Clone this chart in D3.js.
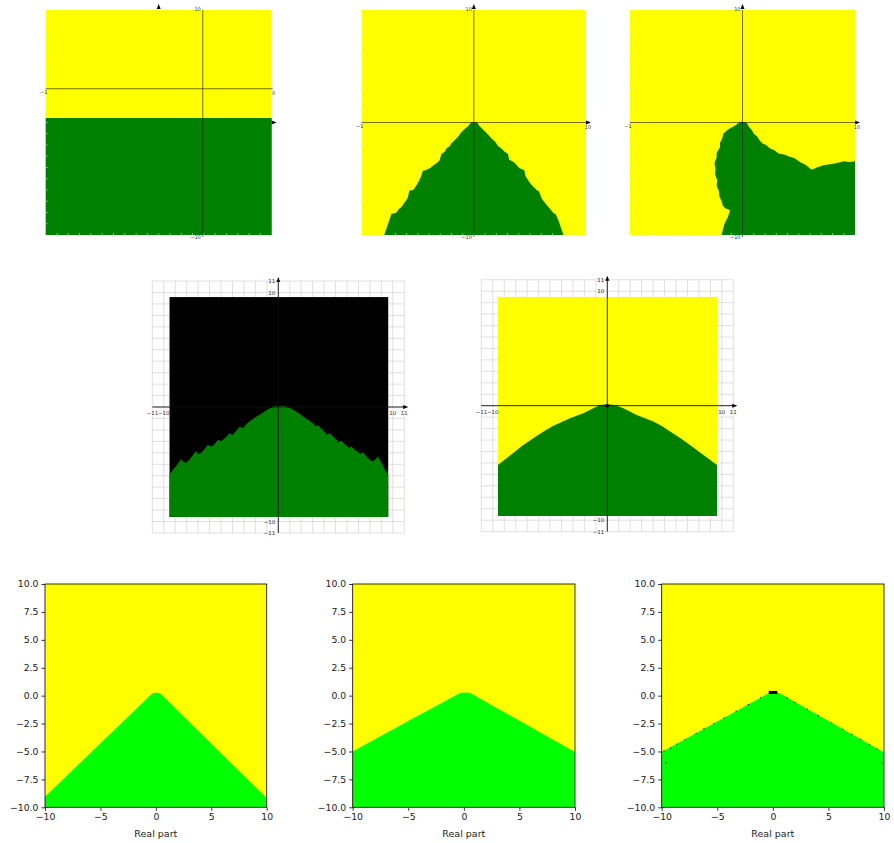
<!DOCTYPE html>
<html><head><meta charset="utf-8">
<script src="https://cdn.jsdelivr.net/npm/d3@7"></script>
<style>body{margin:0;background:#fff}text{font-family:"DejaVu Sans",sans-serif}</style>
</head><body>
<svg id="c" width="894" height="843"></svg>
<script>
// ---------------- DATA ----------------
// Panel 1 (top-left): green half-plane below this imaginary value
const p1GreenTop = 0.4;
const p1AxisLines = [3.9, 3.0];          // where the drawn axis lines sit (x, y)
const p1Labels = ["\u22121", "0", "10", "\u221210"];

// Panel 2 (top-middle): staircase triangle
const p2Region = [[-8.0,-10],[-7.75,-9.3],[-7.55,-8.7],[-7.35,-8.1],[-6.95,-8.05],[-6.7,-7.7],[-6.4,-7.45],[-6.1,-7.0],[-5.9,-6.7],[-5.75,-6.05],[-5.4,-6.0],[-5.1,-5.55],[-4.85,-5.1],[-4.7,-4.75],[-4.55,-4.3],[-4.2,-4.2],[-3.9,-4.05],[-3.6,-3.8],[-3.3,-3.6],[-3.05,-3.35],[-2.9,-2.8],[-2.6,-2.6],[-2.45,-2.3],[-2.15,-2.1],[-2.0,-1.85],[-1.65,-1.5],[-1.35,-1.2],[-1.2,-0.95],[-0.8,-0.55],[-0.5,-0.3],[-0.25,0.0],[0.0,0.05],[0.3,0.0],[0.5,-0.3],[0.7,-0.5],[1.05,-0.85],[1.3,-1.1],[1.6,-1.45],[1.95,-1.75],[2.1,-2.05],[2.45,-2.3],[2.75,-2.6],[3.05,-2.8],[3.15,-3.3],[3.45,-3.45],[3.7,-3.65],[4.05,-4.05],[4.5,-4.25],[4.6,-4.75],[4.85,-5.15],[5.15,-5.55],[5.6,-6.0],[5.8,-6.1],[6.05,-6.75],[6.35,-7.15],[6.65,-7.5],[7.1,-8.05],[7.3,-8.15],[7.55,-8.7],[7.75,-9.3],[8.0,-10]];
const p2Labels = ["\u22121", "10", "10", "\u221210"];

// Panel 3 (top-right): irregular basin
const p3Region = [[-1.85,-10],[-1.75,-9.5],[-1.6,-9.0],[-1.3,-8.4],[-1.1,-7.8],[-1.5,-7.65],[-1.75,-7.4],[-1.85,-7.0],[-2.05,-6.6],[-2.1,-6.1],[-2.3,-5.6],[-2.25,-5.1],[-2.45,-4.6],[-2.4,-4.1],[-2.5,-3.6],[-2.3,-3.1],[-2.3,-2.7],[-2.0,-2.2],[-2.0,-1.8],[-1.8,-1.4],[-1.7,-1.0],[-1.4,-0.7],[-1.1,-0.5],[-0.8,-0.35],[-0.5,-0.15],[-0.2,0.07],[0.2,0.05],[0.4,-0.05],[0.55,-0.35],[0.85,-0.7],[1.0,-1.0],[1.3,-1.25],[1.5,-1.55],[1.75,-1.85],[2.1,-2.0],[2.45,-2.3],[2.8,-2.45],[3.2,-2.75],[3.7,-2.85],[4.2,-3.05],[4.6,-3.15],[5.1,-3.5],[5.6,-3.75],[6.15,-4.2],[6.6,-4.0],[7.2,-3.8],[7.8,-3.7],[8.4,-3.6],[9.0,-3.45],[9.5,-3.5],[10,-3.45],[10,-10]];
const p3Labels = ["\u22121", "10", "10", "\u221210"];

// Panel 4 (middle-left): scalloped basin on black
const p4Boundary = [[-9.5,-5.85],[-9.2,-5.5],[-8.9,-5.1],[-8.7,-4.85],[-8.45,-4.55],[-8.3,-4.8],[-8.1,-4.9],[-7.8,-4.65],[-7.45,-4.2],[-7.2,-3.85],[-7.0,-4.1],[-6.8,-4.05],[-6.5,-3.75],[-6.15,-3.3],[-5.9,-3.45],[-5.65,-3.35],[-5.25,-2.85],[-5.0,-3.0],[-4.65,-2.7],[-4.25,-2.3],[-4.0,-2.45],[-3.65,-2.05],[-3.35,-1.7],[-3.1,-1.85],[-2.8,-1.5],[-2.5,-1.25],[-2.0,-0.9],[-1.6,-0.65],[-1.2,-0.4],[-0.9,-0.2],[-0.5,0.0],[-0.25,0.12],[-0.05,0.08],[0.0,-0.1],[0.1,0.08],[0.5,0.12],[0.9,-0.05],[1.3,-0.25],[1.8,-0.55],[2.2,-0.85],[2.7,-1.2],[3.05,-1.45],[3.3,-1.7],[3.5,-1.6],[3.8,-1.95],[4.25,-2.4],[4.5,-2.3],[4.8,-2.6],[5.25,-3.05],[5.5,-2.95],[5.85,-3.3],[6.2,-3.55],[6.4,-3.45],[6.7,-3.75],[7.2,-4.1],[7.4,-3.95],[7.8,-4.45],[8.2,-4.75],[8.45,-4.6],[8.7,-4.35],[8.95,-4.75],[9.25,-5.35],[9.6,-5.95]];
const p4PlotX = [-9.5, 9.6], p4PlotY = [-9.6, 9.6];

// Panel 5 (middle-right): smooth bell basin on yellow
const p5Boundary = [[-9.55,-5.18],[-8.5,-4.35],[-7.34,-3.43],[-6.4,-2.8],[-5.6,-2.27],[-4.8,-1.8],[-4.13,-1.48],[-3.26,-1.1],[-2.1,-0.66],[-1.22,-0.23],[-0.64,0.06],[0.0,0.13],[0.67,0.06],[1.4,-0.23],[2.57,-0.81],[3.3,-1.1],[4.02,-1.38],[4.8,-1.8],[5.48,-2.25],[6.4,-2.85],[7.22,-3.43],[8.4,-4.3],[9.58,-5.18]];
const p5PlotX = [-9.55, 9.58], p5PlotY = [-9.63, 9.5];
const midTickLabels = [11, 10, -10, -11];

// Bottom row (matplotlib style)
const p6Boundary = [[-10,-9.05],[-7.5,-6.66],[-5,-4.27],[-2.5,-1.88],[-0.6,-0.06],[-0.35,0.18],[-0.1,0.27],[0.2,0.27],[0.45,0.15],[0.7,-0.09],[2.5,-1.86],[5,-4.3],[7.5,-6.75],[10,-9.2]];
const p7Boundary = [[-10,-5.0],[-7.5,-3.64],[-5,-2.28],[-2.5,-0.92],[-0.6,0.11],[-0.3,0.27],[0.5,0.27],[0.7,0.16],[2.5,-0.85],[5,-2.25],[7.5,-3.65],[10,-5.05]];
const p8Boundary = [[-10,-5.05],[-7.5,-3.68],[-5,-2.31],[-2.5,-0.94],[-0.6,0.1],[-0.3,0.27],[0.5,0.27],[0.7,0.16],[2.5,-0.87],[5,-2.28],[7.5,-3.69],[10,-5.1]];
const p8Rect = [[-0.37, 0.15], [0.4, 0.42]];
const p8Specks = [[-9.8,-4.95],[-9.6,-6.0],[-9.2,-4.7],[-8.6,-4.35],[-7.9,-3.95],[-6.9,-3.4],[-6.2,-2.95],[-5.3,-2.5],[-4.4,-2.0],[-3.3,-1.4],[-2.2,-0.8],[-1.1,-0.18],[1.3,-0.2],[2.0,-0.6],[3.1,-1.22],[4.1,-1.78],[5.3,-2.45],[6.3,-3.01],[7.1,-3.47],[7.9,-3.92],[8.7,-4.37],[9.4,-4.77],[9.8,-6.0]];
const bottomYTicks = [10, 7.5, 5, 2.5, 0, -2.5, -5, -7.5, -10];
const bottomXTicks = [-10, -5, 0, 5, 10];
const xLabel = "Real part";

// ---------------- DRAWING ----------------
const YELLOW = "#ffff00", DKGREEN = "#008000", LTGREEN = "#00ff00";
const svg = d3.select("#c");
svg.append("rect").attr("width", 894).attr("height", 843).attr("fill", "#fff");

function arrowUp(g, x, y) {
  g.append("path").attr("d", `M${x},${y-3}L${x-2},${y+2}L${x+2},${y+2}Z`).attr("fill", "#000");
}
function arrowRight(g, x, y) {
  g.append("path").attr("d", `M${x+3},${y}L${x-2},${y-2}L${x-2},${y+2}Z`).attr("fill", "#000");
}

// ---- Top row ----
function drawTop(box, region, axisAt, labels) {
  const g = svg.append("g");
  const x = d3.scaleLinear().domain([-10, 10]).range([box[0], box[1]]);
  const y = d3.scaleLinear().domain([10, -10]).range([box[2], box[3]]);
  g.append("rect").attr("x", x(-10)).attr("y", y(10)).attr("width", x(10) - x(-10)).attr("height", y(-10) - y(10)).attr("fill", YELLOW);
  g.append("path").datum(region).attr("d", d3.line().x(d => x(d[0])).y(d => y(d[1]))).attr("fill", DKGREEN);
  d3.range(-9, 10).forEach(v => {
    g.append("line").attr("x1", x(-10)).attr("x2", x(-10) + 2).attr("y1", y(v)).attr("y2", y(v)).attr("stroke", "#e0e0e0").attr("stroke-width", 0.6);
    g.append("line").attr("x1", x(v)).attr("x2", x(v)).attr("y1", y(-10)).attr("y2", y(-10) - 2).attr("stroke", "#e0e0e0").attr("stroke-width", 0.6);
  });
  const ax = x(axisAt[0]), ay = y(axisAt[1]);
  g.append("line").attr("x1", x(-10)).attr("x2", x(10) + 1).attr("y1", ay).attr("y2", ay).attr("stroke", "#222").attr("stroke-width", 0.8).attr("opacity", 0.8);
  g.append("line").attr("x1", ax).attr("x2", ax).attr("y1", y(10)).attr("y2", y(-10) + 2).attr("stroke", "#222").attr("stroke-width", 0.8).attr("opacity", 0.8);
  arrowUp(g, x(0), y(10) - 3);
  arrowRight(g, x(10) + 2, y(0));
  const fs = 5;
  g.append("text").attr("x", x(-10) - 2).attr("y", ay + 5).attr("font-size", fs).attr("text-anchor", "middle").attr("fill", "#333").text(labels[0]);
  g.append("text").attr("x", x(10) + 2).attr("y", ay + 6).attr("font-size", fs).attr("text-anchor", "middle").attr("fill", "#333").text(labels[1]);
  g.append("text").attr("x", ax - 2).attr("y", y(10) + 1).attr("font-size", fs).attr("text-anchor", "end").attr("fill", "#333").text(labels[2]);
  g.append("text").attr("x", ax - 2).attr("y", y(-10) + 4).attr("font-size", fs).attr("text-anchor", "end").attr("fill", "#333").text(labels[3]);
}
drawTop([45.7, 271.7, 10, 235], [[-10, p1GreenTop], [10, p1GreenTop], [10, -10], [-10, -10]], p1AxisLines, p1Labels);
drawTop([361.7, 586, 10, 235], p2Region, [0, 0], p2Labels);
drawTop([630, 855, 10, 235], p3Region, [0, 0], p3Labels);

// ---- Middle row ----
function drawMid(cx, cy, bg, boundary, plotX, plotY, dot) {
  const g = svg.append("g");
  const u = 11.45;
  const x = d3.scaleLinear().domain([-11, 11]).range([cx - 11 * u, cx + 11 * u]);
  const y = d3.scaleLinear().domain([11, -11]).range([cy - 11 * u, cy + 11 * u]);
  d3.range(-11, 12).forEach(v => {
    g.append("line").attr("x1", x(v)).attr("x2", x(v)).attr("y1", y(11)).attr("y2", y(-11)).attr("stroke", "#d8d8d8").attr("stroke-width", 0.8);
    g.append("line").attr("y1", y(v)).attr("y2", y(v)).attr("x1", x(-11)).attr("x2", x(11)).attr("stroke", "#d8d8d8").attr("stroke-width", 0.8);
  });
  g.append("rect").attr("x", x(plotX[0])).attr("y", y(plotY[1])).attr("width", x(plotX[1]) - x(plotX[0])).attr("height", y(plotY[0]) - y(plotY[1])).attr("fill", bg);
  const poly = [[plotX[0], plotY[0]]].concat(boundary).concat([[plotX[1], plotY[0]]]);
  g.append("path").datum(poly).attr("d", d3.line().x(d => x(d[0])).y(d => y(d[1]))).attr("fill", DKGREEN);
  g.append("line").attr("x1", x(-11)).attr("x2", x(11)).attr("y1", y(0)).attr("y2", y(0)).attr("stroke", "#111").attr("stroke-width", 0.9);
  g.append("line").attr("x1", x(0)).attr("x2", x(0)).attr("y1", y(11)).attr("y2", y(-11)).attr("stroke", "#111").attr("stroke-width", 0.9);
  arrowUp(g, x(0), y(11) - 1);
  arrowRight(g, x(11) + 1, y(0));
  if (dot) g.append("circle").attr("cx", x(0)).attr("cy", y(0)).attr("r", 1.8).attr("fill", "#000");
  const fs = 5.5;
  midTickLabels.forEach(v => {
    g.append("text").attr("x", x(0) - 3).attr("y", y(v) + 2).attr("font-size", fs).attr("text-anchor", "end").attr("fill", "#333").text(d3.format("")(v).replace("-", "\u2212"));
    g.append("text").attr("x", x(v)).attr("y", y(0) + 8).attr("font-size", fs).attr("text-anchor", "middle").attr("fill", "#333").text(d3.format("")(v).replace("-", "\u2212"));
  });
}
drawMid(278.3, 407, "#000", p4Boundary, p4PlotX, p4PlotY, false);
drawMid(607.3, 405.7, YELLOW, p5Boundary, p5PlotX, p5PlotY, true);

// ---- Bottom row ----
function drawBottom(x0, x1, boundary, rect, specks) {
  const g = svg.append("g");
  const x = d3.scaleLinear().domain([-10, 10]).range([x0, x1]);
  const y = d3.scaleLinear().domain([-10, 10]).range([807.3, 584]);
  g.append("rect").attr("x", x0).attr("y", 584).attr("width", x1 - x0).attr("height", 223.3).attr("fill", YELLOW);
  const poly = boundary.concat([[10, -10], [-10, -10]]);
  g.append("path").datum(poly).attr("d", d3.line().x(d => x(d[0])).y(d => y(d[1]))).attr("fill", LTGREEN);
  if (rect) g.append("rect").attr("x", x(rect[0][0])).attr("y", y(rect[1][1])).attr("width", x(rect[1][0]) - x(rect[0][0])).attr("height", y(rect[0][1]) - y(rect[1][1])).attr("fill", "#000");
  if (specks) g.selectAll(".sp").data(specks).enter().append("rect").attr("x", d => x(d[0]) - 0.6).attr("y", d => y(d[1]) - 0.6).attr("width", 1.2).attr("height", 1.2).attr("fill", "#000").attr("opacity", 0.8);
  g.append("rect").attr("x", x0).attr("y", 584).attr("width", x1 - x0).attr("height", 223.3).attr("fill", "none").attr("stroke", "#000").attr("stroke-width", 0.8);
  const ya = g.append("g").attr("transform", `translate(${x0},0)`).call(d3.axisLeft(y).tickValues(bottomYTicks).tickFormat(d3.format(".1f")).tickSize(3.5).tickPadding(3));
  const xa = g.append("g").attr("transform", `translate(0,807.3)`).call(d3.axisBottom(x).tickValues(bottomXTicks).tickFormat(d3.format("d")).tickSize(3.5).tickPadding(3));
  [ya, xa].forEach(a => {
    a.select(".domain").remove();
    a.selectAll("line").attr("stroke", "#000").attr("stroke-width", 0.8);
    a.selectAll("text").attr("font-size", 9.3).attr("fill", "#222").style("font-family", "DejaVu Sans");
  });
  g.append("text").attr("x", (x0 + x1) / 2).attr("y", 837).attr("text-anchor", "middle").attr("font-size", 9.5).attr("fill", "#222").text(xLabel);
}
drawBottom(45, 266.7, p6Boundary, null, null);
drawBottom(352.7, 575, p7Boundary, null, null);
drawBottom(661.7, 884, p8Boundary, p8Rect, p8Specks);
</script>
</body></html>
